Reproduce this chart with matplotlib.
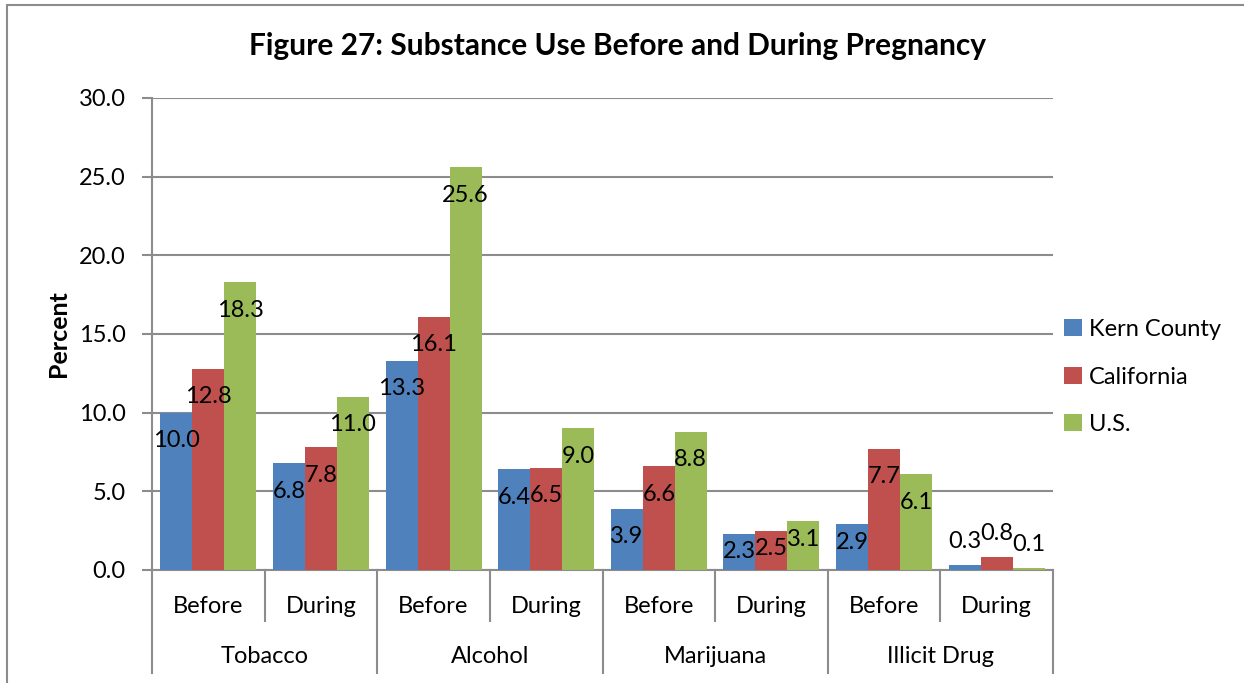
import matplotlib
matplotlib.use('Agg')
from matplotlib import pyplot as plt
from matplotlib.patches import Rectangle
import matplotlib.transforms as mtransforms
import numpy as np

plt.rcParams['font.family'] = ['Lato', 'DejaVu Sans']

substances = ['Tobacco', 'Alcohol', 'Marijuana', 'Illicit Drug']
periods = ['Before', 'During']
series = ['Kern County', 'California', 'U.S.']

kern = [10.0, 6.8, 13.3, 6.4, 3.9, 2.3, 2.9, 0.3]
california = [12.8, 7.8, 16.1, 6.5, 6.6, 2.5, 7.7, 0.8]
us = [18.3, 11.0, 25.6, 9.0, 8.8, 3.1, 6.1, 0.1]

colors = ['#4F81BD', '#C0504D', '#9BBB59']
grid_color = '#8C8C8C'
fs = 17

fig = plt.figure(figsize=(12.44, 6.83), dpi=100)
ax = fig.add_axes([152 / 1244, 1 - 570 / 683, 901 / 1244, 472 / 683])

x = np.arange(len(kern))
width = 0.284
handles = []
for i, (vals, c, name) in enumerate(zip([kern, california, us], colors, series)):
    bars = ax.bar(x + (i - 1) * width, vals, width, color=c, label=name, zorder=3)
    handles.append(bars)
    for b, v in zip(bars, vals):
        # label sits inside the top of the bar, or just above if the bar is tiny
        if v >= 3.5:
            dy = -28 * 0.72
        elif v >= 1:
            dy = -18 * 0.72
        else:
            dy = 24 * 0.72
        ax.annotate(f'{v:.1f}', (b.get_x() + b.get_width() / 2, v),
                    xytext=(0, dy), textcoords='offset points',
                    ha='center', va='center', fontsize=fs, zorder=4)

ax.set_xlim(-0.5, len(kern) - 0.5)
ax.set_ylim(0, 30)
ax.set_yticks(np.arange(0, 30.1, 5))
ax.set_yticklabels([f'{t:.1f}' for t in np.arange(0, 30.1, 5)], fontsize=fs)
ax.tick_params(axis='y', length=7, width=1.5, color=grid_color, pad=12)
ax.set_xticks([])
ax.yaxis.grid(True, color=grid_color, linewidth=1.5, zorder=0)
for s in ['top', 'right']:
    ax.spines[s].set_visible(False)
for s in ['left', 'bottom']:
    ax.spines[s].set_color(grid_color)
    ax.spines[s].set_linewidth(1.5)

ax.set_ylabel('Percent', fontsize=fs + 1, fontweight='bold', labelpad=6)

# two-level category axis
trans = mtransforms.blended_transform_factory(ax.transData, ax.transAxes)
for k in range(len(kern) + 1):
    xb = k - 0.5
    y_end = -0.218 if k % 2 == 0 else -0.108
    ax.plot([xb, xb], [0, y_end], transform=trans, color=grid_color,
            linewidth=1.5, clip_on=False)
for k in range(len(kern)):
    ax.text(k, -0.077, periods[k % 2], transform=trans, ha='center',
            va='center', fontsize=fs)
for g, name in enumerate(substances):
    ax.text(2 * g + 0.5, -0.183, name, transform=trans, ha='center',
            va='center', fontsize=fs)

fig.text(0.496, 0.933, 'Figure 27: Substance Use Before and During Pregnancy',
         ha='center', va='center', fontsize=21.5, fontweight='bold')

fig.legend(handles=handles, labels=series, loc='center left',
           bbox_to_anchor=(1064 / 1244, 1 - 377 / 683), frameon=False,
           fontsize=fs, handlelength=0.75, handleheight=0.75,
           handletextpad=0.3, labelspacing=1.12, borderpad=0,
           borderaxespad=0)

# outer chart border
fig.add_artist(Rectangle((7 / 1244, -0.1), 1.2, 1.1 - 5 / 683,
                         transform=fig.transFigure, fill=False,
                         edgecolor='#8C8C8C', linewidth=1.5))

fig.savefig('out.png', dpi=100)
